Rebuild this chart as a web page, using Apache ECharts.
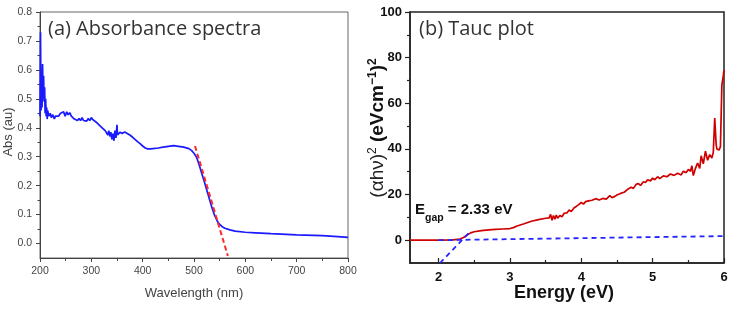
<!DOCTYPE html>
<html>
<head>
<meta charset="utf-8">
<script src="https://cdn.jsdelivr.net/npm/echarts@6/dist/echarts.min.js"></script>
<style>
html,body{margin:0;padding:0;background:#fff;}
#c{width:734px;height:309px;}
</style>
</head>
<body>
<div id="c"></div>
<script>
// ---------- (a) Absorbance spectra ----------
const absWavelength = [200,201,202,203,204,205,206,207,208,209,210,211,212,213,214,215,217,220,222,225,228,230,233,236,240,243,246,249,252,255,258,261,264,267,270,273,276,279,282,285,288,291,294,297,300,303,306,309,312,315,318,321,324,327,330,332,334,336,338,340,342,344,346,348,350,351,353,356,360,365,370,375,380,385,390,395,400,405,410,415,420,430,440,450,460,470,480,490,495,500,505,510,515,520,525,530,535,540,545,550,555,560,570,580,600,620,650,700,750,780,800];
const absValues = [0.44,0.73,0.46,0.52,0.47,0.62,0.50,0.58,0.49,0.54,0.45,0.50,0.44,0.47,0.43,0.46,0.44,0.45,0.435,0.445,0.43,0.44,0.445,0.44,0.45,0.445,0.455,0.44,0.455,0.445,0.452,0.44,0.445,0.43,0.435,0.425,0.432,0.425,0.435,0.425,0.43,0.423,0.432,0.425,0.435,0.428,0.43,0.42,0.425,0.41,0.415,0.40,0.405,0.39,0.395,0.375,0.39,0.37,0.385,0.36,0.38,0.355,0.39,0.365,0.41,0.375,0.38,0.385,0.38,0.385,0.38,0.375,0.368,0.36,0.352,0.345,0.337,0.33,0.327,0.327,0.328,0.33,0.333,0.336,0.338,0.336,0.333,0.328,0.322,0.312,0.298,0.272,0.243,0.214,0.184,0.154,0.124,0.098,0.079,0.066,0.058,0.053,0.047,0.043,0.039,0.037,0.034,0.030,0.027,0.024,0.021];
const absFitX = [502, 566];
const absFitY = [0.337, -0.043];
const absXTicks = [200,300,400,500,600,700,800];
const absYTicks = [0,0.1,0.2,0.3,0.4,0.5,0.6,0.7,0.8];
const absYMinor = [0.05,0.15,0.25,0.35,0.45,0.55,0.65,0.75];

// ---------- (b) Tauc plot ----------
const taucEnergy = [1.6,1.8,2.0,2.2,2.3,2.35,2.4,2.45,2.5,2.6,2.7,2.8,2.9,3.0,3.05,3.1,3.2,3.3,3.4,3.5,3.55,3.57,3.59,3.61,3.63,3.65,3.67,3.7,3.73,3.76,3.8,3.83,3.86,3.9,3.93,3.96,4.0,4.03,4.06,4.1,4.15,4.2,4.25,4.3,4.35,4.4,4.43,4.47,4.5,4.55,4.6,4.65,4.7,4.73,4.77,4.8,4.83,4.87,4.9,4.93,4.97,5.0,5.03,5.07,5.1,5.15,5.2,5.25,5.3,5.35,5.4,5.43,5.47,5.5,5.53,5.55,5.57,5.6,5.63,5.66,5.68,5.71,5.74,5.77,5.8,5.83,5.85,5.87,5.89,5.9,5.93,5.95,5.97,5.99,6.0];
const taucValues = [0,0,0,0.1,0.5,1.2,2.3,3.2,3.7,4.2,4.5,4.7,4.9,5.1,5.5,6.2,7.2,8.3,9.0,9.6,9.8,11.3,8.7,10.8,9.2,11.0,9.6,10.8,10.3,11.8,12.0,13.2,12.6,14.2,14.8,15.5,16.5,15.8,16.9,17.2,17.5,18.2,17.6,18.3,18.0,19.5,18.6,19.2,19.8,20.5,21.0,22.3,23.2,22.7,24.5,24.8,24.0,25.6,25.3,26.5,26.0,27.2,26.5,27.8,27.0,28.2,27.8,29.0,28.4,29.3,28.6,30.2,29.6,31.0,30.2,32.6,28.3,31.5,33.8,31.5,37.0,33.5,39.0,35.0,37.5,36.0,38.5,53.5,42.0,40.0,39.5,41.0,68.0,72.0,74.5];
const baseX = [2.0, 6.0];
const baseY = [0, 1.8];
const fitX = [2.02, 2.42];
const fitY = [-10, 3];
const taucXTicks = [2,3,4,5,6];
const taucXMinor = [2.5,3.5,4.5,5.5];
const taucYTicks = [0,20,40,60,80,100];
const taucYMinor = [10,30,50,70,90];

const zip = (a,b) => a.map((v,i)=>[v,b[i]]);

const chart = echarts.init(document.getElementById('c'), null, {renderer:'canvas'});
const SANS = 'Liberation Sans, Arial, sans-serif';

const leftLabel = {fontSize:10.5, color:'#444', fontFamily:SANS};
const rightLabel = {fontSize:13, color:'#111', fontWeight:'bold', fontFamily:SANS};

chart.setOption({
  animation:false,
  backgroundColor:'#fff',
  grid:[
    {left:40, top:12, width:308, height:246, show:true, borderColor:'#666', borderWidth:1, backgroundColor:'transparent'},
    {left:410, top:12, width:314, height:251, show:true, borderColor:'#222', borderWidth:1.5, backgroundColor:'transparent'}
  ],
  xAxis:[
    {type:'value', gridIndex:0, position:'bottom', min:200, max:800, interval:100,
     axisLine:{onZero:false, lineStyle:{color:'#444', width:1}},
     axisTick:{length:4, lineStyle:{color:'#444'}},
     minorTick:{show:true, splitNumber:2, length:3, lineStyle:{color:'#444'}},
     axisLabel:Object.assign({margin:8, customValues:absXTicks}, leftLabel),
     splitLine:{show:false}, minorSplitLine:{show:false}},
    {type:'value', gridIndex:1, position:'bottom', min:1.6, max:6,
     axisLine:{onZero:false, lineStyle:{color:'#222', width:1.5}},
     axisTick:{inside:true, length:5, customValues:taucXTicks, lineStyle:{color:'#222', width:1.2}},
     axisLabel:Object.assign({margin:8, customValues:taucXTicks}, rightLabel),
     splitLine:{show:false}},
    {type:'value', gridIndex:1, position:'bottom', min:1.6, max:6,
     axisLine:{show:false, onZero:false},
     axisTick:{inside:true, length:3, customValues:taucXMinor, lineStyle:{color:'#222', width:1.2}},
     axisLabel:{show:false},
     splitLine:{show:false}}
  ],
  yAxis:[
    {type:'value', gridIndex:0, position:'left', min:-0.05, max:0.8,
     axisLine:{show:true, onZero:false, lineStyle:{color:'#444', width:1}},
     axisTick:{show:true, length:4, customValues:absYTicks, lineStyle:{color:'#444'}},
     axisLabel:Object.assign({margin:8, customValues:absYTicks, formatter:v=>v.toFixed(1)}, leftLabel),
     splitLine:{show:false}},
    {type:'value', gridIndex:0, position:'left', min:-0.05, max:0.8,
     axisLine:{show:false, onZero:false},
     axisTick:{show:true, length:2.5, customValues:absYMinor, lineStyle:{color:'#444'}},
     axisLabel:{show:false},
     splitLine:{show:false}},
    {type:'value', gridIndex:1, position:'left', min:-10, max:100,
     axisLine:{show:true, onZero:false, lineStyle:{color:'#222', width:1.5}},
     axisTick:{show:true, length:5, customValues:taucYTicks, lineStyle:{color:'#222', width:1.2}},
     axisLabel:Object.assign({margin:8, customValues:taucYTicks}, rightLabel),
     splitLine:{show:false}},
    {type:'value', gridIndex:1, position:'left', min:-10, max:100,
     axisLine:{show:false, onZero:false},
     axisTick:{show:true, length:3, customValues:taucYMinor, lineStyle:{color:'#222', width:1.2}},
     axisLabel:{show:false},
     splitLine:{show:false}}
  ],
  series:[
    {type:'line', xAxisIndex:0, yAxisIndex:0, data:zip(absWavelength, absValues), showSymbol:false, symbol:'none',
     lineStyle:{color:'#1a1aff', width:1.7}, z:2},
    {type:'line', xAxisIndex:0, yAxisIndex:0, data:zip(absFitX, absFitY), showSymbol:false, symbol:'none',
     lineStyle:{color:'#ff2a2a', width:2, type:[5,3]}, z:3},
    {type:'line', xAxisIndex:1, yAxisIndex:2, data:zip(taucEnergy, taucValues), showSymbol:false, symbol:'none',
     lineStyle:{color:'#d00000', width:1.7}, z:2},
    {type:'line', xAxisIndex:1, yAxisIndex:2, data:zip(baseX, baseY), showSymbol:false, symbol:'none',
     lineStyle:{color:'#2424ff', width:1.8, type:[5,4]}, z:3},
    {type:'line', xAxisIndex:1, yAxisIndex:2, data:zip(fitX, fitY), showSymbol:false, symbol:'none',
     lineStyle:{color:'#2424ff', width:1.8, type:[5,4]}, z:3}
  ],
  graphic:[
    {type:'text', x:48, y:29, style:{text:'(a) Absorbance spectra', fill:'#333', font:'20px "Open Sans", sans-serif', verticalAlign:'middle'}},
    {type:'text', x:419, y:29, style:{text:'(b) Tauc plot', fill:'#333', font:'20px "Open Sans", sans-serif', verticalAlign:'middle'}},
    {type:'text', x:194, y:293, style:{text:'Wavelength (nm)', fill:'#444', font:'13px "Liberation Sans", Arial, sans-serif', align:'center', verticalAlign:'middle'}},
    {type:'text', x:8, y:132, rotation:Math.PI/2, style:{text:'Abs (au)', fill:'#444', font:'13px "Liberation Sans", Arial, sans-serif', align:'center', verticalAlign:'middle'}},
    {type:'text', x:564, y:293, style:{text:'Energy (eV)', fill:'#111', font:'bold 18px "Liberation Sans", Arial, sans-serif', align:'center', verticalAlign:'middle'}},
    {type:'text', x:377, y:128, rotation:Math.PI/2, style:{
      text:'{n|(αhν)}{ns|2}{b| (eVcm}{bs|−1}{b|)}{bs|2}',
      align:'center', verticalAlign:'middle', fill:'#111',
      rich:{
        n:{fontSize:19, fontFamily:SANS, fontWeight:'normal', fill:'#222', lineHeight:20, verticalAlign:'bottom'},
        ns:{fontSize:12, fontFamily:SANS, fontWeight:'normal', fill:'#222', lineHeight:20, verticalAlign:'top'},
        b:{fontSize:19, fontFamily:SANS, fontWeight:'bold', fill:'#111', lineHeight:20, verticalAlign:'bottom'},
        bs:{fontSize:12, fontFamily:SANS, fontWeight:'bold', fill:'#111', lineHeight:20, verticalAlign:'top'}
      }}},
    {type:'text', x:415, y:213, style:{
      text:'{e|E}{s|gap}{e| = 2.33 eV}',
      verticalAlign:'middle', fill:'#111',
      rich:{
        e:{fontSize:15, fontFamily:SANS, fontWeight:'bold', fill:'#111', lineHeight:22, verticalAlign:'top'},
        s:{fontSize:10.5, fontFamily:SANS, fontWeight:'bold', fill:'#111', lineHeight:22, verticalAlign:'bottom'}
      }}}
  ]
});
</script>
</body>
</html>
